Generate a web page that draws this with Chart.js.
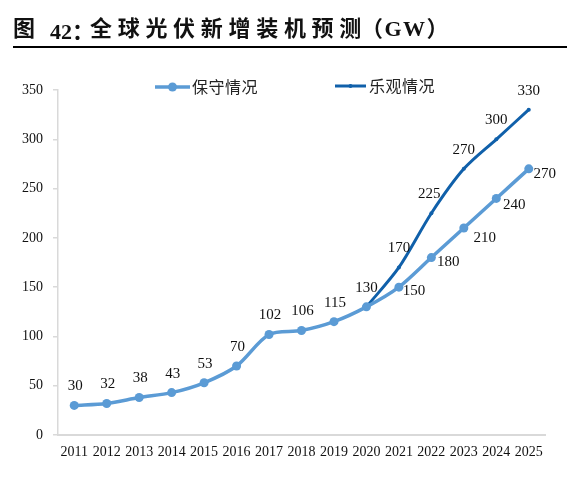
<!DOCTYPE html>
<html>
<head>
<meta charset="utf-8">
<script src="https://cdn.jsdelivr.net/npm/chart.js@4.4.1/dist/chart.umd.min.js"></script>
<style>
  html, body { margin: 0; padding: 0; background: #fff; }
  #wrap { position: relative; width: 587px; height: 479px; overflow: hidden; }
  .t { position: absolute; top: 15px; font-family: "Liberation Serif", "Noto Sans CJK SC", serif; font-weight: bold; font-size: 22px; color: #111; white-space: nowrap; line-height: 28px; }
  .cjk { font-family: "Noto Sans CJK SC", sans-serif; }
  #rule { position: absolute; left: 13px; top: 46px; width: 554px; height: 2px; background: #000; }
  canvas { position: absolute; left: 0; top: 0; }
</style>
</head>
<body>
<div id="wrap">
  <canvas id="c" width="587" height="479"></canvas>
  <span class="t" style="left:13px">图</span>
  <span class="t" style="left:50px">42<span class="cjk">：</span></span>
  <span class="t" style="left:90px; letter-spacing:5.7px">全球光伏新增装机预测</span>
  <span class="t" style="left:361px; letter-spacing:1.5px">（GW）</span>
  <div id="rule"></div>
</div>
<script>
const years = ['2011','2012','2013','2014','2015','2016','2017','2018','2019','2020','2021','2022','2023','2024','2025'];
const conservative = [30, 32, 38, 43, 53, 70, 102, 106, 115, 130, 150, 180, 210, 240, 270];
const optimistic = [null, null, null, null, null, null, null, null, null, 130, 170, 225, 270, 300, 330];
const seriesNames = ['保守情况', '乐观情况'];
const yTicks = [0, 50, 100, 150, 200, 250, 300, 350];

const lightBlue = '#5B9BD5';
const darkBlue = '#1060AA';

// label offsets (px) relative to point: [dx, dy]
const labelOffsets = [
  years.map((y, i) => i < 9 ? [1, -19] : (i === 9 ? null : [[15,4],[17,4],[21,10],[18,7],[16,5]][i - 10])),
  years.map((y, i) => i >= 9 ? [i === 11 ? -2 : 0, -19] : null)
];

const labelPlugin = {
  id: 'valueLabels',
  afterDatasetsDraw(chart) {
    const ctx = chart.ctx;
    ctx.save();
    ctx.font = '15px "Liberation Serif", serif';
    ctx.fillStyle = '#111';
    ctx.textAlign = 'center';
    ctx.textBaseline = 'middle';
    chart.data.datasets.forEach((ds, di) => {
      const meta = chart.getDatasetMeta(di);
      meta.data.forEach((pt, i) => {
        const v = ds.data[i];
        const off = labelOffsets[di][i];
        if (v == null || !off) return;
        ctx.fillText(String(v), pt.x + off[0], pt.y + off[1]);
      });
    });
    ctx.restore();
  }
};

const legendPlugin = {
  id: 'customLegend',
  afterDraw(chart) {
    const ctx = chart.ctx;
    ctx.save();
    const items = [
      { x0: 155, x1: 190, y: 87, color: lightBlue, lw: 3.5, r: 4.5, tx: 192, text: seriesNames[0] },
      { x0: 335, x1: 366, y: 86, color: darkBlue, lw: 3, r: 2, tx: 369, text: seriesNames[1] }
    ];
    items.forEach(it => {
      ctx.strokeStyle = it.color;
      ctx.lineWidth = it.lw;
      ctx.beginPath();
      ctx.moveTo(it.x0, it.y);
      ctx.lineTo(it.x1, it.y);
      ctx.stroke();
      ctx.fillStyle = it.color;
      ctx.beginPath();
      ctx.arc((it.x0 + it.x1) / 2, it.y, it.r, 0, Math.PI * 2);
      ctx.fill();
      ctx.fillStyle = '#222';
      ctx.font = '16px "Noto Sans CJK SC", sans-serif';
      ctx.textAlign = 'left';
      ctx.textBaseline = 'middle';
      let x = it.tx;
      for (const ch of it.text) {
        ctx.fillText(ch, x, it.y);
        x += 16.5;
      }
    });
    ctx.restore();
  }
};

new Chart(document.getElementById('c'), {
  type: 'line',
  data: {
    labels: years,
    datasets: [
      {
        label: seriesNames[0],
        data: conservative,
        borderColor: lightBlue,
        backgroundColor: lightBlue,
        borderWidth: 3.5,
        pointRadius: 4.5,
        pointHoverRadius: 4.5,
        pointBackgroundColor: lightBlue,
        pointBorderWidth: 0,
        tension: 0.3
      },
      {
        label: seriesNames[1],
        data: optimistic,
        borderColor: darkBlue,
        backgroundColor: darkBlue,
        borderWidth: 3,
        pointRadius: 2,
        pointHoverRadius: 2,
        pointBackgroundColor: darkBlue,
        pointBorderWidth: 0,
        tension: 0.3,
        spanGaps: false
      }
    ]
  },
  options: {
    responsive: false,
    animation: false,
    layout: { padding: { left: 0, right: 42, top: 90, bottom: 0 } },
    plugins: { legend: { display: false }, tooltip: { enabled: false } },
    scales: {
      x: {
        offset: true,
        grid: { display: false, drawTicks: false },
        border: { display: true, color: '#D9D9D9', width: 2 },
        ticks: {
          autoSkip: false, maxRotation: 0, minRotation: 0, padding: 9,
          color: '#111', font: { family: '"Liberation Serif", serif', size: 14 }
        },
        afterFit(s) { s.height = 44; }
      },
      y: {
        min: 0, max: 350,
        afterBuildTicks(s) { s.ticks = yTicks.map(v => ({ value: v })); },
        grid: { drawOnChartArea: false, drawTicks: true, tickLength: 5, color: '#D9D9D9', lineWidth: 1.5 },
        border: { display: true, color: '#D9D9D9', width: 1.5 },
        ticks: {
          padding: 10, color: '#111',
          font: { family: '"Liberation Serif", serif', size: 14 }
        },
        afterFit(s) { s.width = 58; }
      }
    }
  },
  plugins: [labelPlugin, legendPlugin]
});
</script>
</body>
</html>
